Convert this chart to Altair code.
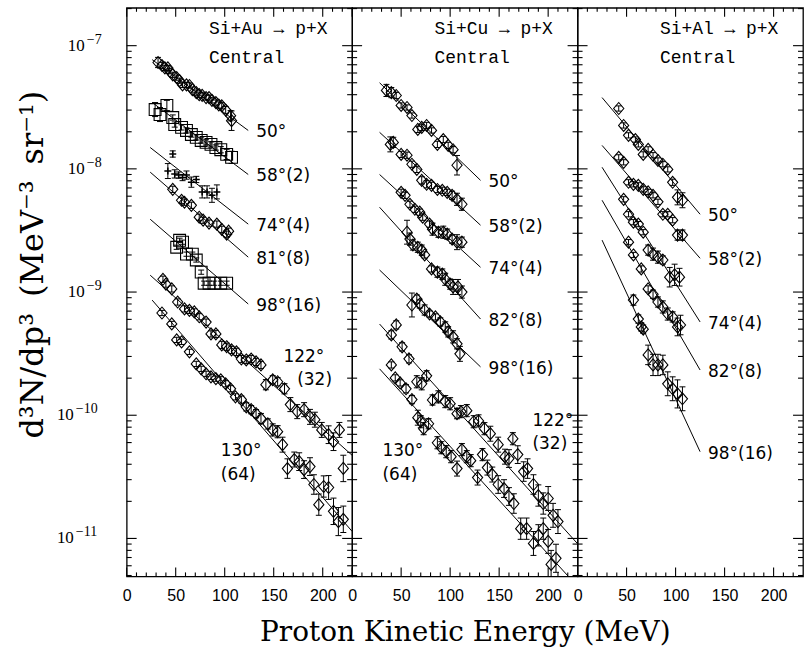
import altair as alt
import pandas as pd

# ---------------------------------------------------------------------------
# Proton invariant yields d3N/dp3 (MeV^-3 sr^-1) vs kinetic energy E (MeV),
# central Si + A collisions, several laboratory angles.  The number in
# parentheses is the factor by which a spectrum has been divided.
# *_err are relative uncertainties.
# ---------------------------------------------------------------------------

# ----- Si + Au -----
au_50_e = [32, 36, 39, 42, 44, 47, 51, 54, 57, 61, 64, 67, 71, 74, 77, 81, 84, 87, 91, 94, 97, 101, 106, 107]
au_50_v = [7.3e-8, 6.9e-8, 6.6e-8, 6.6e-8, 6.2e-8, 5.8e-8, 5.5e-8, 5.2e-8, 4.8e-8, 4.8e-8, 4.75e-8, 4.4e-8,
           4.16e-8, 4.0e-8, 3.95e-8, 3.79e-8, 3.79e-8, 3.6e-8, 3.45e-8, 3.3e-8, 3.25e-8, 3.0e-8, 2.7e-8, 2.46e-8]
au_50_err = [0.10, 0.06, 0.05, 0.05, 0.05, 0.05, 0.05, 0.05, 0.05, 0.05, 0.05, 0.05,
             0.05, 0.05, 0.05, 0.05, 0.05, 0.05, 0.05, 0.06, 0.06, 0.07, 0.10, 0.20]

au_58_e = [29, 34, 41, 47, 49, 56, 61, 66, 71, 76, 81, 86, 91, 96, 102, 107]
au_58_v = [3.03e-8, 2.76e-8, 3.27e-8, 2.61e-8, 2.29e-8, 2.17e-8, 2.05e-8, 1.9e-8, 1.8e-8, 1.7e-8,
           1.64e-8, 1.58e-8, 1.49e-8, 1.43e-8, 1.31e-8, 1.24e-8]
au_58_err = [0.14, 0.14, 0.10, 0.05, 0.05, 0.05, 0.05, 0.05, 0.05, 0.05, 0.05, 0.05, 0.05, 0.06, 0.10, 0.12]

au_74_e = [42, 47, 49, 53, 57, 61, 66, 71, 77, 82, 87, 92]
au_74_v = [9.6e-9, 1.32e-8, 9.1e-9, 8.9e-9, 8.5e-9, 8.9e-9, 7.8e-9, 8.2e-9, 6.5e-9, 6.5e-9, 6.1e-9, 6.5e-9]
au_74_err = [0.15, 0.06, 0.08, 0.06, 0.06, 0.08, 0.10, 0.06, 0.12, 0.12, 0.14, 0.14]

au_81_e = [47, 56, 59, 66, 74, 78, 84, 92, 97, 102, 104]
au_81_v = [6.82e-9, 5.56e-9, 5.36e-9, 5.06e-9, 4.05e-9, 3.83e-9, 3.63e-9, 3.56e-9, 3.23e-9, 2.95e-9, 3.12e-9]
au_81_err = [0.06, 0.06, 0.06, 0.06, 0.06, 0.06, 0.06, 0.06, 0.06, 0.06, 0.06]

au_98_e = [51, 54, 57, 61, 67, 71, 76, 79, 84, 89, 96, 102]
au_98_v = [2.31e-9, 2.63e-9, 2.54e-9, 2.03e-9, 2.03e-9, 1.82e-9, 1.45e-9, 1.18e-9, 1.18e-9, 1.18e-9, 1.18e-9, 1.18e-9]
au_98_err = [0.04, 0.04, 0.04, 0.04, 0.04, 0.04, 0.04, 0.04, 0.04, 0.04, 0.04, 0.04]

au_122_e = [37, 40, 46, 52, 59, 64, 69, 74, 81, 86, 91, 97, 102, 107, 112, 117, 122, 127, 132, 137,
            142, 149, 154, 161, 167, 174, 181, 187, 192, 199, 206, 211, 217, 221]
au_122_v = [1.27e-9, 1.16e-9, 1.06e-9, 8.3e-10, 7.3e-10, 7.1e-10, 6.9e-10, 6.3e-10, 5.7e-10, 4.57e-10,
            4.57e-10, 3.72e-10, 3.6e-10, 3.39e-10, 3.27e-10, 2.86e-10, 2.81e-10, 2.86e-10, 2.71e-10, 2.56e-10,
            1.77e-10, 1.94e-10, 1.87e-10, 1.64e-10, 1.22e-10, 1.07e-10, 1.11e-10, 9.7e-11, 9.2e-11, 7.6e-11,
            6.95e-11, 6.1e-11, 7.6e-11, 3.7e-11]
au_122_err = [0.06] * 10 + [0.07] * 10 + [0.10, 0.08, 0.08, 0.10, 0.14, 0.14, 0.14, 0.15, 0.15, 0.15,
                                          0.18, 0.18, 0.15, 0.28]

au_130_e = [36, 46, 51, 56, 64, 71, 76, 81, 86, 91, 96, 101, 106, 111, 117, 122, 127, 132, 137, 144,
            149, 154, 159, 164, 171, 176, 181, 187, 191, 196, 201, 206, 211, 216, 221]
au_130_v = [6.76e-10, 5.51e-10, 4.09e-10, 3.94e-10, 3.27e-10, 2.61e-10, 2.38e-10, 2.17e-10, 2.05e-10, 1.98e-10,
            1.94e-10, 1.8e-10, 1.64e-10, 1.41e-10, 1.34e-10, 1.17e-10, 1.11e-10, 1.03e-10, 9.4e-11, 8.5e-11,
            7.6e-11, 7.35e-11, 5.77e-11, 3.69e-11, 4.37e-11, 4.2e-11, 3.62e-11, 3.83e-11, 2.74e-11, 1.88e-11,
            2.64e-11, 2.59e-11, 1.66e-11, 1.37e-11, 1.43e-11]
au_130_err = [0.05] * 10 + [0.06, 0.06, 0.06, 0.06, 0.07, 0.08, 0.08, 0.08, 0.10, 0.10,
                            0.12, 0.12, 0.15, 0.20, 0.15, 0.18, 0.18, 0.18, 0.20, 0.22,
                            0.22, 0.25, 0.28, 0.30, 0.28]

# exponential fits (start/end energy and yield)
au_fit_e0 = [26, 26, 24, 24, 24, 24, 26]
au_fit_v0 = [7.7e-8, 3.46e-8, 1.49e-8, 9.4e-9, 3.9e-9, 1.37e-9, 8.6e-10]
au_fit_e1 = [124, 124, 124, 124, 124, 230, 230]
au_fit_v1 = [2.05e-8, 9.0e-9, 3.56e-9, 1.92e-9, 8.0e-10, 4.73e-11, 1.14e-11]
au_fit_label = ["50°", "58°(2)", "74°(4)", "81°(8)", "98°(16)", "", ""]

# ----- Si + Cu -----
cu_50_e = [35, 40, 45, 50, 56, 61, 67, 71, 76, 81, 87, 93, 98, 103, 107]
cu_50_v = [4.33e-8, 4.16e-8, 3.94e-8, 3.27e-8, 3.15e-8, 2.71e-8, 2.09e-8, 2.17e-8, 2.25e-8, 2.05e-8,
           1.58e-8, 1.73e-8, 1.55e-8, 1.43e-8, 1.07e-8]
cu_50_err = [0.12, 0.10, 0.06, 0.05, 0.05, 0.05, 0.06, 0.06, 0.06, 0.05, 0.06, 0.06, 0.06, 0.06, 0.20]

cu_58_e = [39, 42, 50, 56, 61, 66, 71, 76, 81, 87, 92, 97, 102, 107, 112]
cu_58_v = [1.58e-8, 1.64e-8, 1.31e-8, 1.29e-8, 1.09e-8, 9.9e-9, 8.07e-9, 7.5e-9, 7.35e-9, 6.8e-9,
           6.7e-9, 6.45e-9, 6.1e-9, 5.66e-9, 5.16e-9]
cu_58_err = [0.15, 0.10, 0.06, 0.06, 0.06, 0.06, 0.07, 0.07, 0.06, 0.06, 0.06, 0.06, 0.08, 0.12, 0.12]

cu_74_e = [50, 54, 59, 64, 69, 72, 79, 82, 88, 93, 97, 102, 107, 112]
cu_74_v = [6.45e-9, 6.1e-9, 5.16e-9, 4.7e-9, 4.45e-9, 4.05e-9, 3.56e-9, 3.24e-9, 3.06e-9, 3.06e-9,
           2.95e-9, 2.69e-9, 2.54e-9, 2.54e-9]
cu_74_err = [0.06, 0.06, 0.06, 0.06, 0.06, 0.06, 0.06, 0.12, 0.10, 0.12, 0.10, 0.08, 0.15, 0.10]

cu_82_e = [56, 59, 62, 67, 71, 74, 81, 87, 92, 95, 100, 103, 108, 112]
cu_82_v = [3.06e-9, 2.69e-9, 2.41e-9, 2.31e-9, 2.19e-9, 2.0e-9, 1.54e-9, 1.45e-9, 1.4e-9, 1.27e-9,
           1.16e-9, 1.1e-9, 1.1e-9, 1.0e-9]
cu_82_err = [0.25, 0.12, 0.10, 0.10, 0.10, 0.06, 0.06, 0.10, 0.10, 0.12, 0.10, 0.15, 0.15, 0.12]

cu_98_e = [61, 66, 69, 74, 79, 85, 90, 95, 98, 103, 107, 110]
cu_98_v = [7.85e-10, 8.77e-10, 8.0e-10, 7.15e-10, 6.63e-10, 6.28e-10, 5.72e-10, 5.21e-10, 4.75e-10,
           4.33e-10, 3.8e-10, 3.15e-10]
cu_98_err = [0.25, 0.08, 0.08, 0.10, 0.06, 0.06, 0.08, 0.10, 0.10, 0.12, 0.10, 0.15]

cu_122_e = [40, 45, 51, 58, 66, 71, 76, 82, 88, 95, 100, 107, 111, 117, 124, 129, 135, 141, 149, 156,
            160, 164, 169, 175, 179, 185, 190, 195, 200, 205, 210]
cu_122_v = [4.49e-10, 5.41e-10, 3.59e-10, 2.87e-10, 1.87e-10, 1.8e-10, 2.09e-10, 1.33e-10, 1.41e-10, 1.29e-10,
            1.24e-10, 1.03e-10, 1.07e-10, 1.09e-10, 8.86e-11, 9.0e-11, 7.78e-11, 7.08e-11, 5.77e-11, 4.61e-11,
            4.45e-11, 6.45e-11, 4.79e-11, 3.49e-11, 3.69e-11, 2.74e-11, 2.23e-11, 1.92e-11, 2.11e-11, 1.54e-11,
            1.37e-11]
cu_122_err = [0.08, 0.08, 0.08, 0.08, 0.12, 0.12, 0.10, 0.10, 0.12, 0.12,
              0.12, 0.10, 0.12, 0.12, 0.12, 0.12, 0.12, 0.15, 0.15, 0.15,
              0.18, 0.12, 0.18, 0.20, 0.20, 0.20, 0.22, 0.22, 0.25, 0.25, 0.25]

cu_130_e = [40, 44, 49, 55, 61, 67, 70, 73, 78, 87, 91, 96, 101, 107, 112, 117, 121, 128, 133, 138,
            143, 149, 155, 160, 165, 172, 178, 185, 190, 195, 200, 203, 208]
cu_130_v = [2.56e-10, 2.01e-10, 1.83e-10, 1.64e-10, 1.34e-10, 9.55e-11, 8.86e-11, 7.78e-11, 8.53e-11, 5.98e-11,
            5.45e-11, 5.06e-11, 4.61e-11, 3.69e-11, 5.26e-11, 4.61e-11, 4.28e-11, 3.12e-11, 4.79e-11, 3.76e-11,
            3.3e-11, 2.74e-11, 2.54e-11, 2.19e-11, 1.92e-11, 1.2e-11, 1.2e-11, 9.1e-12, 1.06e-11, 1.2e-11,
            9.46e-12, 6.15e-12, 6.9e-12]
cu_130_err = [0.06, 0.06, 0.06, 0.08, 0.08, 0.15, 0.12, 0.12, 0.10, 0.12,
              0.12, 0.12, 0.12, 0.15, 0.12, 0.12, 0.12, 0.15, 0.12, 0.15,
              0.15, 0.18, 0.18, 0.18, 0.20, 0.22, 0.22, 0.25, 0.22, 0.22, 0.25, 0.30, 0.30]

cu_fit_e0 = [28, 28, 28, 28, 28, 28, 28]
cu_fit_v0 = [5.0e-8, 1.98e-8, 9.0e-9, 4.88e-9, 1.51e-9, 5.5e-10, 2.38e-10]
cu_fit_e1 = [131, 131, 131, 131, 131, 230, 230]
cu_fit_v1 = [8.07e-9, 3.49e-9, 1.59e-9, 6.04e-10, 2.47e-10, 9.06e-12, 4.07e-12]
cu_fit_label = ["50°", "58°(2)", "74°(4)", "82°(8)", "98°(16)", "", ""]

# ----- Si + Al -----
al_50_e = [42, 47, 52, 59, 62, 67, 72, 77, 82, 87, 92, 97, 102, 107]
al_50_v = [3.09e-8, 2.25e-8, 1.87e-8, 1.73e-8, 1.58e-8, 1.31e-8, 1.44e-8, 1.29e-8, 1.17e-8, 1.09e-8,
           9.9e-9, 7.78e-9, 5.87e-9, 5.56e-9]
al_50_err = [0.05] * 11 + [0.06, 0.15, 0.15]

al_58_e = [42, 47, 52, 57, 62, 67, 72, 77, 82, 87, 92, 97, 102, 107]
al_58_v = [1.24e-8, 1.13e-8, 7.78e-9, 7.49e-9, 7.35e-9, 6.82e-9, 6.5e-9, 6.1e-9, 5.4e-9, 4.28e-9,
           4.28e-9, 3.83e-9, 2.9e-9, 2.9e-9]
al_58_err = [0.05] * 12 + [0.10, 0.10]

al_74_e = [47, 52, 57, 62, 67, 72, 77, 82, 87, 94, 99, 104]
al_74_v = [5.66e-9, 4.28e-9, 3.69e-9, 3.56e-9, 3.06e-9, 2.19e-9, 2.03e-9, 1.92e-9, 1.82e-9, 1.32e-9,
           1.38e-9, 1.32e-9]
al_74_err = [0.05, 0.05, 0.05, 0.05, 0.05, 0.10, 0.12, 0.12, 0.08, 0.20, 0.22, 0.18]

al_82_e = [52, 57, 65, 72, 77, 82, 87, 92, 97, 102, 105]
al_82_v = [2.54e-9, 2.0e-9, 1.54e-9, 1.06e-9, 9.6e-10, 8.3e-10, 7.57e-10, 6.63e-10, 6.28e-10, 5.21e-10, 5.4e-10]
al_82_err = [0.05, 0.05, 0.06, 0.06, 0.08, 0.10, 0.12, 0.12, 0.10, 0.18, 0.20]

al_98_e = [57, 62, 65, 67, 72, 77, 82, 87, 92, 97, 102, 107]
al_98_v = [8.6e-10, 6.04e-10, 5.21e-10, 5.0e-10, 3.09e-10, 2.56e-10, 2.56e-10, 2.56e-10, 1.8e-10,
           1.64e-10, 1.49e-10, 1.36e-10]
al_98_err = [0.10, 0.08, 0.08, 0.08, 0.20, 0.22, 0.22, 0.20, 0.25, 0.25, 0.30, 0.25]

al_fit_e0 = [25, 25, 25, 25, 25]
al_fit_v0 = [3.79e-8, 1.55e-8, 1.03e-8, 5.56e-9, 2.64e-9]
al_fit_e1 = [125, 125, 125, 125, 125]
al_fit_v1 = [4.28e-9, 1.88e-9, 5.72e-10, 2.33e-10, 5.06e-11]
al_fit_label = ["50°", "58°(2)", "74°(4)", "82°(8)", "98°(16)"]

# angle labels placed away from the line ends (text, E, yield)
au_free = [("122°", 160, 2.98e-10), ("(32)", 174, 1.94e-10), ("130°", 96, 5.1e-11), ("(64)", 96, 3.3e-11)]
cu_free = [("122°", 184, 8.9e-11), ("(32)", 184, 5.8e-11), ("130°", 31, 5.1e-11), ("(64)", 31, 3.3e-11)]

# ---------------------------------------------------------------------------
W, H = 226, 570
X_DOMAIN = [0, 230]
Y_DOMAIN = [4.92e-12, 2.03e-7]
X_MAJOR = [0, 50, 100, 150, 200]
X_MINOR = [t for t in range(10, 230, 10) if t % 50]
Y_MAJOR = [1e-11, 1e-10, 1e-9, 1e-8, 1e-7]
Y_MINOR = [m * 10.0 ** p for p in range(-12, -6) for m in range(2, 10)
           if Y_DOMAIN[0] <= m * 10.0 ** p <= Y_DOMAIN[1]]

# decade labels: power of ten written as "10" plus a raised exponent
Y_EXP_ONE = pd.DataFrame({"v": [1e-7, 1e-8, 1e-9], "exp": ["−7", "−8", "−9"]})
Y_EXP_TWO = pd.DataFrame({"v": [1e-10, 1e-11], "exp": ["−10", "−11"]})

DIAMOND = "M0,-1L0.85,0L0,1L-0.85,0Z"
CROSS = "M-1,0L1,0M0,-1L0,1"
CAP = "M-1,0L1,0"
MARKERS = {"diamond": (DIAMOND, 144, 1.1), "square": ("square", 140, 1.1), "cross": (CROSS, 49, 1.5)}

xscale = alt.Scale(domain=X_DOMAIN, nice=False, zero=False)
yscale = alt.Scale(type="log", domain=Y_DOMAIN, nice=False)


def x_axis(title):
    kw = dict(values=X_MAJOR, ticks=False, domain=False, grid=False, labelPadding=11,
              labelFont="Liberation Sans", labelFontSize=16, labelColor="black",
              labelFlush=False, labelOverlap=False, format="d")
    if title:
        return alt.Axis(title=title, titleFont="DejaVu Serif", titleFontSize=28,
                        titleFontWeight="normal", titleColor="black", titlePadding=15, **kw)
    return alt.Axis(title=None, **kw)


y_axis_left = alt.Axis(
    values=Y_MAJOR, labels=False, ticks=False, domain=False, grid=False,
    title="d³N/dp³\u2002(MeV⁻³\u2002sr⁻¹)", titleFont="DejaVu Serif", titleFontSize=32,
    titleFontWeight="normal", titleColor="black", titleAngle=270,
    titleX=-94, titleY=257, titleAlign="center", titleBaseline="middle",
)


def spectrum(e, v, err, marker):
    return pd.DataFrame({
        "e": e, "v": v,
        "lo": [a / (1 + b) for a, b in zip(v, err)],
        "hi": [a * (1 + b) for a, b in zip(v, err)],
        "marker": marker,
    })


def panel(spectra, fe0, fv0, fe1, fv1, flab, free, reaction, x_title, y_axis):
    xa = x_axis(x_title)

    def X(f="e"):
        return alt.X(f, type="quantitative", scale=xscale, axis=xa)

    def Y(f="v"):
        return alt.Y(f, type="quantitative", scale=yscale, axis=y_axis)

    rule = dict(color="black", strokeWidth=1.1)
    layers = []

    # inward ticks on all four sides of the frame
    for vals, ln in ((Y_MAJOR, 10), (Y_MINOR, 5)):
        df = pd.DataFrame({"v": vals})
        layers.append(alt.Chart(df).mark_rule(**rule).encode(y=Y(), x=alt.value(0), x2=alt.value(ln)))
        layers.append(alt.Chart(df).mark_rule(**rule).encode(y=Y(), x=alt.value(W), x2=alt.value(W - ln)))
    for vals, ln in ((X_MAJOR, 9), (X_MINOR, 4)):
        df = pd.DataFrame({"e": vals})
        layers.append(alt.Chart(df).mark_rule(**rule).encode(x=X(), y=alt.value(H), y2=alt.value(H - ln)))
        layers.append(alt.Chart(df).mark_rule(**rule).encode(x=X(), y=alt.value(0), y2=alt.value(ln)))

    # decade labels on the outer left axis
    if y_axis is not None:
        for df, right in ((Y_EXP_ONE, -42), (Y_EXP_TWO, -53)):
            layers.append(alt.Chart(df).mark_text(align="right", baseline="middle", font="Liberation Serif",
                                                  fontSize=17, color="black")
                          .encode(y=Y(), x=alt.value(right), text=alt.value("10")))
            layers.append(alt.Chart(df).mark_text(align="left", baseline="middle", dy=-6,
                                                  font="Liberation Serif", fontSize=14, color="black")
                          .encode(y=Y(), x=alt.value(right + 2), text="exp:N"))

    # fitted exponentials
    fits = pd.DataFrame({
        "e": list(fe0) + list(fe1),
        "v": list(fv0) + list(fv1),
        "fit": list(range(len(fe0))) * 2,
    })
    layers.append(alt.Chart(fits).mark_line(color="black", strokeWidth=1, clip=True)
                  .encode(x=X(), y=Y(), detail="fit:N"))

    # error bars with caps
    pts = pd.concat(spectra, ignore_index=True)
    layers.append(alt.Chart(pts).mark_rule(color="black", strokeWidth=1, clip=True)
                  .encode(x=X(), y=Y("lo"), y2="hi"))
    for f in ("lo", "hi"):
        layers.append(alt.Chart(pts).mark_point(shape=CAP, size=36, filled=False, color="black",
                                                strokeWidth=1, opacity=1, clip=True)
                      .encode(x=X(), y=Y(f)))

    # data symbols
    for name, (shape, size, sw) in MARKERS.items():
        sub = pts[pts["marker"] == name]
        if len(sub):
            layers.append(alt.Chart(sub).mark_point(shape=shape, size=size, filled=False, color="black",
                                                    strokeWidth=sw, opacity=1, clip=True)
                          .encode(x=X(), y=Y()))

    # angle labels at the end of the fit lines
    lab = pd.DataFrame({"e": fe1, "v": fv1, "t": flab})
    lab = lab[lab["t"] != ""]
    txt = dict(font="DejaVu Sans", fontSize=17, color="black", align="left", baseline="middle")
    layers.append(alt.Chart(lab).mark_text(dx=8, dy=2, **txt).encode(x=X(), y=Y(), text="t:N"))
    if free:
        fr = pd.DataFrame({"t": [f[0] for f in free], "e": [f[1] for f in free], "v": [f[2] for f in free]})
        layers.append(alt.Chart(fr).mark_text(**txt).encode(x=X(), y=Y(), text="t:N"))

    # reaction header
    head = pd.DataFrame({"e": [84, 84], "v": [1.37e-7, 8.0e-8], "t": [reaction, "Central"]})
    layers.append(alt.Chart(head).mark_text(font="Liberation Mono", fontSize=18, color="black",
                                            align="left", baseline="middle")
                  .encode(x=X(), y=Y(), text="t:N"))

    return alt.layer(*layers).properties(width=W, height=H)


p_au = panel(
    [spectrum(au_50_e, au_50_v, au_50_err, "diamond"),
     spectrum(au_58_e, au_58_v, au_58_err, "square"),
     spectrum(au_74_e, au_74_v, au_74_err, "cross"),
     spectrum(au_81_e, au_81_v, au_81_err, "diamond"),
     spectrum(au_98_e, au_98_v, au_98_err, "square"),
     spectrum(au_122_e, au_122_v, au_122_err, "diamond"),
     spectrum(au_130_e, au_130_v, au_130_err, "diamond")],
    au_fit_e0, au_fit_v0, au_fit_e1, au_fit_v1, au_fit_label, au_free,
    "Si+Au → p+X", None, y_axis_left)

p_cu = panel(
    [spectrum(cu_50_e, cu_50_v, cu_50_err, "diamond"),
     spectrum(cu_58_e, cu_58_v, cu_58_err, "diamond"),
     spectrum(cu_74_e, cu_74_v, cu_74_err, "diamond"),
     spectrum(cu_82_e, cu_82_v, cu_82_err, "diamond"),
     spectrum(cu_98_e, cu_98_v, cu_98_err, "diamond"),
     spectrum(cu_122_e, cu_122_v, cu_122_err, "diamond"),
     spectrum(cu_130_e, cu_130_v, cu_130_err, "diamond")],
    cu_fit_e0, cu_fit_v0, cu_fit_e1, cu_fit_v1, cu_fit_label, cu_free,
    "Si+Cu → p+X", "Proton Kinetic Energy (MeV)", None)

p_al = panel(
    [spectrum(al_50_e, al_50_v, al_50_err, "diamond"),
     spectrum(al_58_e, al_58_v, al_58_err, "diamond"),
     spectrum(al_74_e, al_74_v, al_74_err, "diamond"),
     spectrum(al_82_e, al_82_v, al_82_err, "diamond"),
     spectrum(al_98_e, al_98_v, al_98_err, "diamond")],
    al_fit_e0, al_fit_v0, al_fit_e1, al_fit_v1, al_fit_label, None,
    "Si+Al → p+X", None, None)

chart = (
    alt.hconcat(p_au, p_cu, p_al, spacing=0, bounds="flush")
    .properties(padding={"left": 16, "top": 5, "right": 1, "bottom": 2}, background="white")
    .configure_view(stroke="black", strokeWidth=1.3)
)

chart.save("out.html", embed_options={"renderer": "svg", "actions": False})
